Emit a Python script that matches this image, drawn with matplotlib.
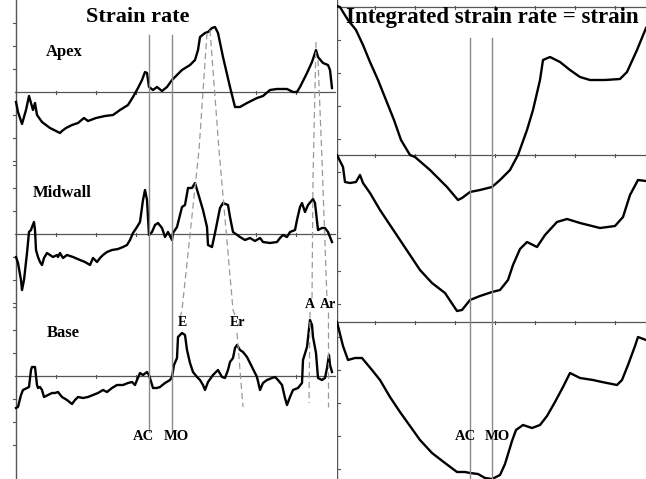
import numpy as np
import matplotlib
matplotlib.use("Agg")
import matplotlib.pyplot as plt

# ---- strain rate traces (frames from start, arbitrary units) ----
apex_t = [0, 2, 6, 10, 13, 15, 17, 19, 21, 26, 34, 40, 44, 46, 50, 56, 62, 68, 72, 80, 89, 97,
          104, 112, 117, 122, 126, 129, 131, 133, 137, 141, 146, 151, 156, 161, 166, 174, 179,
          182, 184, 189, 192, 196, 199, 202, 207, 214, 219, 224, 231, 241, 247, 254, 261, 271,
          277, 281, 284, 291, 296, 300, 302, 307, 312, 314, 316]
apex_sr = [-10, -20, -32, -18, -4, -11, -18, -11, -23, -30, -36, -39, -41, -39, -36, -33, -31, -26,
           -29, -26, -24, -23, -18, -13, -5, 4, 12, 20, 19, 5, 2, 5, 1, 5, 12, 17, 22, 27, 32,
           42, 55, 59, 60, 64, 65, 59, 35, 5, -15, -15, -11, -6, -4, 2, 3, 3, 0, 0, 5, 19, 30,
           42, 35, 29, 27, 22, 4]

mid_t = [0, 2, 5, 6, 8, 11, 13, 15, 16, 18, 19, 20, 22, 24, 26, 28, 31, 34, 37, 41, 42, 44, 47,
         51, 54, 57, 64, 69, 74, 77, 81, 84, 87, 91, 96, 102, 107, 111, 114, 117, 121, 124, 127,
         129, 131, 133, 136, 139, 142, 146, 149, 152, 156, 157, 161, 166, 169, 172, 176, 179,
         182, 187, 191, 192, 196, 199, 204, 207, 212, 214, 217, 224, 229, 234, 239, 244, 247,
         254, 261, 264, 267, 271, 274, 279, 281, 284, 286, 289, 292, 297, 299, 302, 306, 309,
         312, 316]
mid_sr = [-23, -29, -46, -56, -46, -19, 2, 4, 7, 12, 4, -16, -23, -28, -31, -24, -19, -21, -23,
          -21, -23, -19, -24, -21, -22, -23, -26, -28, -31, -24, -28, -24, -21, -18, -16, -15,
          -13, -11, -6, 1, 7, 12, 34, 44, 34, -1, 2, 9, 11, 6, -3, 2, -6, 1, 7, 27, 29, 46, 46,
          51, 41, 24, 7, -11, -13, 1, 26, 31, 29, 17, 2, -3, -6, -4, -7, -4, -8, -9, -8, -4, -1,
          -3, 2, 4, 14, 27, 31, 22, 29, 35, 31, 4, 6, 6, 2, -8]

base_t = [0, 2, 5, 7, 11, 13, 15, 16, 19, 21, 22, 24, 26, 28, 32, 36, 39, 42, 46, 51, 56, 59,
          62, 67, 72, 77, 82, 87, 91, 96, 101, 107, 112, 116, 119, 121, 124, 127, 131, 133, 137,
          141, 144, 149, 154, 156, 158, 161, 162, 166, 169, 171, 174, 177, 181, 184, 187, 189,
          192, 197, 202, 206, 209, 212, 214, 217, 219, 221, 224, 227, 231, 236, 241, 244, 247,
          251, 256, 259, 262, 266, 269, 271, 274, 277, 282, 286, 287, 291, 294, 296, 297, 300,
          302, 306, 309, 311, 313, 314, 316]
base_sr = [-32, -31, -19, -14, -12, -11, 6, 9, 9, -9, -12, -11, -14, -21, -19, -17, -17, -16,
           -21, -24, -28, -24, -21, -22, -21, -19, -17, -14, -16, -12, -9, -9, -7, -6, -9, -4,
           3, 1, 4, 1, -12, -12, -11, -7, -4, -1, 11, 18, 39, 43, 41, 26, 13, 4, -1, -4, -9,
           -14, -6, 1, 6, -1, -2, 6, 14, 18, 28, 31, 26, 24, 19, 9, -1, -14, -7, -4, -2, -1, -4,
           -9, -22, -29, -21, -14, -12, -7, 16, 29, 56, 51, 39, 23, -2, -4, -2, 8, 21, 11, 4]

# ---- integrated strain rate = strain (right panel) ----
apex_st_t = [0, 3, 6, 11, 19, 26, 33, 41, 49, 57, 64, 73, 78, 93, 110, 121, 125, 133, 143, 155,
             163, 173, 181, 190, 196, 203, 206, 213, 223, 233, 243, 253, 268, 283, 290, 300, 309]
apex_st = [1, 0, -5, -13, -23, -38, -55, -73, -93, -113, -133, -148, -150, -163, -180, -193,
           -191, -185, -183, -180, -173, -163, -148, -123, -103, -73, -53, -50, -55, -63, -70,
           -73, -73, -72, -65, -43, -21]

mid_st_t = [0, 6, 8, 13, 19, 23, 26, 33, 43, 53, 63, 73, 83, 95, 108, 120, 125, 133, 143, 155,
            163, 171, 176, 183, 190, 200, 208, 220, 230, 243, 263, 278, 286, 293, 301, 309]
mid_st = [0, -12, -27, -28, -27, -20, -28, -38, -55, -70, -85, -100, -115, -128, -138, -156,
          -155, -145, -141, -137, -135, -125, -110, -94, -87, -92, -80, -67, -64, -68, -73, -71,
          -62, -40, -25, -26]

base_st_t = [0, 6, 11, 18, 25, 35, 43, 53, 63, 73, 83, 95, 108, 120, 128, 133, 141, 148, 155,
             163, 168, 175, 179, 186, 195, 203, 210, 218, 226, 233, 243, 256, 265, 280, 285, 291,
             298, 301, 309]
base_st = [0, -24, -38, -36, -36, -48, -58, -75, -90, -104, -118, -131, -141, -150, -150, -151,
           -152, -156, -157, -153, -142, -119, -108, -103, -106, -103, -94, -80, -65, -51, -56,
           -58, -60, -63, -58, -43, -24, -15, -18]

# events (frames)
AC_T = 133
MO_T = 156

# dashed guide lines E / Er / A / Ar (frame, row)
e_t, e_row = [191, 183, 166, 164], [33, 150, 310, 318]
er_t, er_row = [194, 203, 217, 220], [30, 150, 310, 318]
er2_t, er2_row = [221, 227], [333, 407]
a_t, a_row = [300, 297, 296], [42, 178, 300]
a2_t, a2_row = [294, 293], [312, 403]
ar_t, ar_row = [302, 306, 311], [60, 160, 300]
ar2_t, ar2_row = [312, 312], [312, 407]

left_rows = {"Apex": 92, "Midwall": 234, "Base": 376}
right_rows = [7, 155, 322]

serif = ["Liberation Serif", "DejaVu Serif"]
W, H = 646, 479

fig = plt.figure(figsize=(6.46, 4.79), dpi=100)
fig.patch.set_facecolor("white")

axL = fig.add_axes([0, 0, 337 / W, 1])
axL.set_xlim(-16, 321)
axL.set_ylim(H, 0)
axL.axis("off")

axR = fig.add_axes([337 / W, 0, 309 / W, 1])
axR.set_xlim(0, 309)
axR.set_ylim(H, 0)
axR.axis("off")

grey = "#555555"
lgrey = "#8a8a8a"

# left frame
axL.plot([0, 0], [0, H], color=grey, lw=1.0)
for r in left_rows.values():
    axL.plot([-1, 319], [r, r], color=grey, lw=0.9)
    for k in range(-3, 4):
        if k != 0:
            axL.plot([-3, 0], [r + 23 * k, r + 23 * k], color=grey, lw=0.8)
    for tx in [40, 80, 120, 240, 280]:
        axL.plot([tx, tx], [r - 1.5, r + 1.5], color=grey, lw=0.8)

for name, tt, vv in [("Apex", apex_t, apex_sr), ("Midwall", mid_t, mid_sr), ("Base", base_t, base_sr)]:
    r = left_rows[name]
    axL.plot(tt, r - np.array(vv), color="black", lw=1.7, solid_joinstyle="round")

for tx in [AC_T, MO_T]:
    axL.plot([tx, tx], [35, 432], color=lgrey, lw=1.0)

dash = dict(color="#9a9a9a", lw=0.9, ls=(0, (5, 3)))
for tt, rr in [(e_t, e_row), (er_t, er_row), (er2_t, er2_row), (a_t, a_row),
               (a2_t, a2_row), (ar_t, ar_row), (ar2_t, ar2_row)]:
    axL.plot(tt, rr, **dash)

tb = dict(family=serif, weight="bold", ha="center", va="center")
axL.text(122, 17, "Strain rate", fontsize=16, **tb)
axL.text(48, 52, "Apex", fontsize=12, **tb)
axL.text(46, 193, "Midwall", fontsize=12, **tb)
axL.text(47, 333, "Base", fontsize=12, **tb)
axL.text(166, 323, "E", fontsize=10, **tb)
axL.text(222, 322, "Er", fontsize=10, **tb)
axL.text(294, 304, "A", fontsize=10, **tb)
axL.text(312, 304, "Ar", fontsize=10, **tb)
axL.text(127, 437, "AC", fontsize=10.5, **tb)
axL.text(160, 437, "MO", fontsize=10.5, **tb)

# right frame
axR.plot([0, 0], [0, H], color=grey, lw=1.0)
for r in right_rows:
    axR.plot([0, 309], [r, r], color=grey, lw=0.9)
    for tx in np.arange(38, 309, 40):
        axR.plot([tx, tx], [r - 1.5, r + 1.5], color=grey, lw=0.8)
for k in range(1, 15):
    axR.plot([0, 3], [7 + 33 * k, 7 + 33 * k], color=grey, lw=0.8)

for r, tt, vv in zip(right_rows, [apex_st_t, mid_st_t, base_st_t], [apex_st, mid_st, base_st]):
    axR.plot(tt, r - np.array(vv), color="black", lw=1.7, solid_joinstyle="round")

for tx in [AC_T, 155]:
    axR.plot([tx, tx], [38, H], color=lgrey, lw=1.0)

axR.text(155, 17, "Integrated strain rate = strain", fontsize=16.5, **tb)
axR.text(128, 437, "AC", fontsize=10.5, **tb)
axR.text(160, 437, "MO", fontsize=10.5, **tb)

fig.savefig("out.png", dpi=100, facecolor="white")
